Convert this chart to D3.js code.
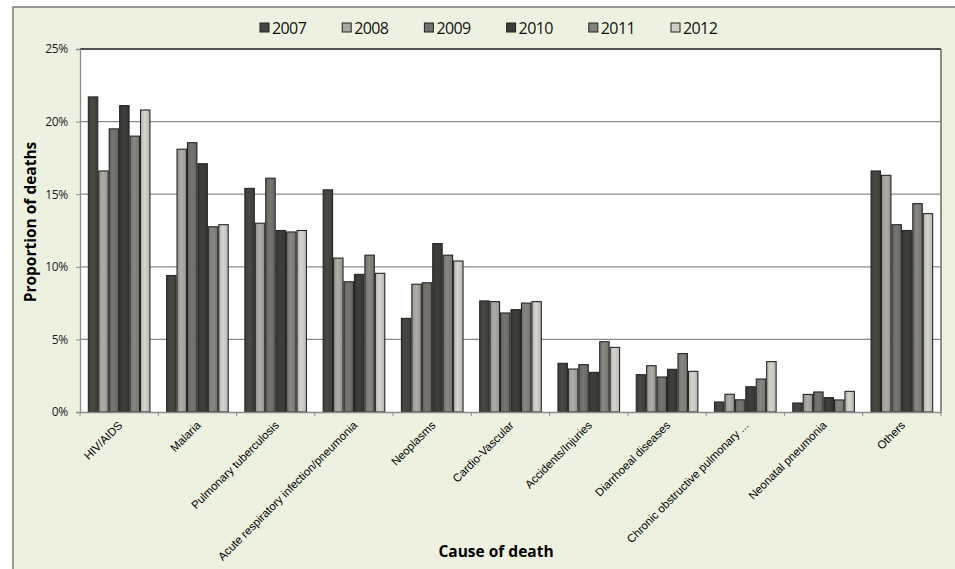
<!DOCTYPE html>
<html><head><meta charset="utf-8">
<script src="https://cdn.jsdelivr.net/npm/d3@7"></script>
<style>
html,body{margin:0;padding:0;background:#fff;}
svg{display:block;}
</style></head>
<body>
<script>
const categories = ["HIV/AIDS","Malaria","Pulmonary tuberculosis","Acute respiratory infection/pneumonia","Neoplasms","Cardio-Vascular","Accidents/Injuries","Diarrhoeal diseases","Chronic obstructive pulmonary ...","Neonatal pneumonia","Others"];
const years = ["2007","2008","2009","2010","2011","2012"];
const v2007 = [21.7, 9.4, 15.4, 15.3, 6.45, 7.65, 3.35, 2.57, 0.69, 0.62, 16.6];
const v2008 = [16.6, 18.1, 13.0, 10.6, 8.8, 7.6, 2.96, 3.19, 1.22, 1.21, 16.3];
const v2009 = [19.5, 18.55, 16.1, 8.97, 8.9, 6.82, 3.26, 2.41, 0.84, 1.38, 12.9];
const v2010 = [21.1, 17.1, 12.5, 9.48, 11.6, 7.05, 2.73, 2.94, 1.74, 0.99, 12.5];
const v2011 = [19.0, 12.76, 12.4, 10.8, 10.8, 7.5, 4.84, 4.02, 2.27, 0.83, 14.35];
const v2012 = [20.8, 12.9, 12.5, 9.55, 10.4, 7.6, 4.45, 2.8, 3.47, 1.42, 13.66];
const yTicks = [0, 5, 10, 15, 20, 25];
const seriesValues = [v2007, v2008, v2009, v2010, v2011, v2012];
const colors = ["#45463f","#aaa6a0","#72716c","#3c3d39","#83817c","#cfccc6"];

(function(){
const W = 955, H = 569;
const svg = d3.select("body").append("svg").attr("width", W).attr("height", H);
const defs = svg.append("defs");
colors.forEach((c, i) => {
  const g = defs.append("linearGradient").attr("id", "g" + i).attr("x1", "0").attr("x2", "1").attr("y1", "0").attr("y2", "0");
  const dark = d3.color(c).darker(0.35), light = d3.color(c).brighter(0.12);
  g.append("stop").attr("offset", "0%").attr("stop-color", dark);
  g.append("stop").attr("offset", "45%").attr("stop-color", light);
  g.append("stop").attr("offset", "100%").attr("stop-color", dark);
});

// outer background
svg.append("rect").attr("x", 13).attr("y", 7).attr("width", W).attr("height", H).attr("fill", "#edf1df").attr("stroke", "#7a7a7a").attr("stroke-width", 1.5);

const pL = 80, pR = 941, pT = 49, pB = 412;
const x0 = d3.scaleBand().domain(categories).range([pL, pR]).paddingInner(0.2).paddingOuter(0.1);
const x1 = d3.scaleBand().domain(years).range([0, x0.bandwidth()]);
const y = d3.scaleLinear().domain([0, 25]).range([pB, pT]);

// plot area
svg.append("rect").attr("x", pL).attr("y", pT).attr("width", pR - pL).attr("height", pB - pT).attr("fill", "#ffffff");

// gridlines
svg.append("g").selectAll("line").data(yTicks.filter(t => t > 0)).join("line")
  .attr("x1", pL).attr("x2", pR).attr("y1", d => y(d)).attr("y2", d => y(d))
  .attr("stroke", "#8c8c8c").attr("stroke-width", 1.3);
svg.append("line").attr("x1", pL).attr("x2", pR).attr("y1", pT).attr("y2", pT).attr("stroke", "#333").attr("stroke-width", 1.3);
svg.append("line").attr("x1", pR).attr("x2", pR).attr("y1", pT).attr("y2", pB).attr("stroke", "#555").attr("stroke-width", 1.3);

// bars
const groups = svg.append("g").selectAll("g").data(categories).join("g")
  .attr("transform", d => `translate(${x0(d)},0)`);
groups.selectAll("rect").data((d, ci) => years.map((yr, si) => ({yr, si, v: seriesValues[si][ci]}))).join("rect")
  .attr("x", d => x1(d.yr) + 0.5).attr("width", x1.bandwidth() - 1)
  .attr("y", d => y(d.v)).attr("height", d => y(0) - y(d.v))
  .attr("fill", d => `url(#g${d.si})`).attr("stroke", "#262626").attr("stroke-width", 1.1);

// y axis
const yAxis = d3.axisLeft(y).tickValues(yTicks).tickFormat(d => d + "%").tickSize(4).tickPadding(8);
const ya = svg.append("g").attr("transform", `translate(${pL},0)`).call(yAxis);
ya.select(".domain").attr("stroke", "#8c8c8c").attr("stroke-width", 1.3);
ya.selectAll(".tick line").attr("stroke", "#8c8c8c");
ya.selectAll("text").attr("font-family", "'Open Sans', sans-serif").attr("font-size", 12).attr("fill", "#1a1a1a").attr("letter-spacing", -0.3);

// x axis
const xAxis = d3.axisBottom(x0).tickValues([]).tickSize(0);
const xa = svg.append("g").attr("transform", `translate(0,${pB})`).call(xAxis);
xa.select(".domain").attr("stroke", "#8c8c8c").attr("stroke-width", 1.3);
const bounds = categories.map(c => x0(c) - x0.step() * x0.paddingInner() / 2).concat([pR]);
xa.selectAll("line.sep").data(bounds).join("line").attr("class", "sep")
  .attr("x1", d => d).attr("x2", d => d).attr("y1", 0).attr("y2", 4).attr("stroke", "#8c8c8c");
xa.selectAll("text.cat").data(categories).join("text").attr("class", "cat")
  .attr("transform", d => `translate(${x0(d) + x0.bandwidth() / 2 + 4},${14}) rotate(-45)`)
  .attr("text-anchor", "end").attr("font-family", "'Liberation Sans', Arial, sans-serif")
  .attr("font-size", 11.4).attr("fill", "#000").text(d => d);

// axis titles
svg.append("text").attr("transform", `translate(36,222) rotate(-90)`)
  .attr("text-anchor", "middle").attr("font-family", "'Open Sans', sans-serif").attr("font-weight", "bold")
  .attr("font-size", 15.5).attr("fill", "#000").text("Proportion of deaths");
svg.append("text").attr("x", 496).attr("y", 557)
  .attr("text-anchor", "middle").attr("font-family", "'Open Sans', sans-serif").attr("font-weight", "bold")
  .attr("font-size", 15.5).attr("fill", "#000").text("Cause of death");

// legend
const lg = svg.append("g").selectAll("g").data(years).join("g")
  .attr("transform", (d, i) => `translate(${260 + i * 82.2},23)`);
lg.append("rect").attr("width", 9).attr("height", 9).attr("fill", (d, i) => colors[i]).attr("stroke", "#222").attr("stroke-width", 1);
lg.append("text").attr("x", 12).attr("y", 10.5).attr("font-family", "'Open Sans', sans-serif")
  .attr("font-size", 16).attr("letter-spacing", -0.6).attr("fill", "#111").text(d => d);
})();
</script>
</body></html>
